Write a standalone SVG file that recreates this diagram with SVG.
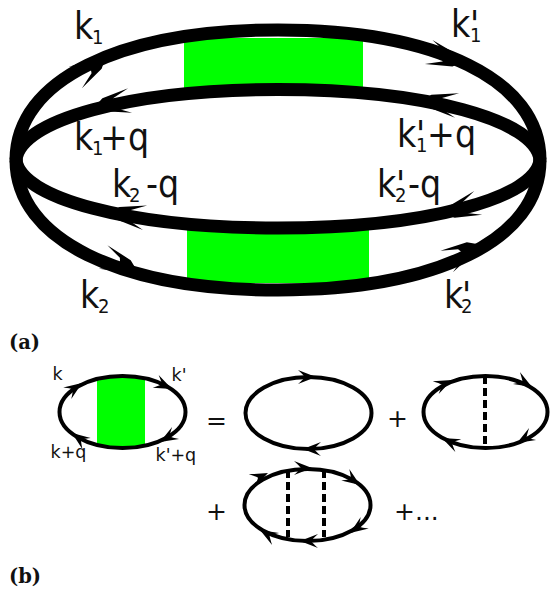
<svg xmlns="http://www.w3.org/2000/svg" xmlns:xlink="http://www.w3.org/1999/xlink" width="550" height="591" viewBox="0 0 550 591">
<style>
text{font-family:"DejaVu Sans",sans-serif;fill:#111}
.b{font-family:"DejaVu Sans Condensed","DejaVu Sans",sans-serif;font-size:37px}
.sub{font-size:20px}
.s{font-size:17.5px}
.m{font-size:25px}
.cap{font-family:"DejaVu Serif",serif;font-weight:bold;font-size:19.5px}
.g{fill:#00ff00}
.big{fill:none;stroke:#000;stroke-width:13}
.sm{fill:none;stroke:#000;stroke-width:4}
.d{fill:none;stroke:#000;stroke-width:4;stroke-dasharray:8 4}
</style>
<defs>
<path id="ah" d="M0 0L-8 -6.500L-35 -12.500L-19 -5L-17 0L-19 5L-35 12.500L-8 6.500Z" fill="#000"/>
<path id="sh" d="M0 0L-18 -7Q-13 -2.500 -11 0Q-13 2.500 -18 7Z" fill="#000"/>
</defs>
<g id="box-top"><rect class="g" x="184" y="38" width="179" height="52"/></g>
<g id="box-bottom"><rect class="g" x="187" y="228" width="182" height="55"/></g>
<g id="box-small"><rect class="g" x="97" y="378" width="48" height="68"/></g>
<g id="connectors">
<path class="big" d="M16 160C16 80 120 30 278 30C436 30 540 80 540 160"/>
<path class="big" d="M16 160C20 120 130 89.500 278 89.500C426 89.500 536 120 540 160"/>
<path class="big" d="M16 160C20 198 130 228 278 228C426 228 536 198 540 160"/>
<path class="big" d="M16 160C16 240 120 290 278 290C436 290 540 240 540 160"/>
<use xlink:href="#ah" transform="translate(105,59) rotate(-32)"/>
<use xlink:href="#ah" transform="translate(95.500,106) rotate(171)"/>
<use xlink:href="#ah" transform="translate(462,62.600) rotate(17.600)"/>
<use xlink:href="#ah" transform="translate(422.500,100) rotate(189)"/>
<use xlink:href="#ah" transform="translate(110.500,212) rotate(189.500)"/>
<use xlink:href="#ah" transform="translate(136,269) rotate(20)"/>
<use xlink:href="#ah" transform="translate(445,214) rotate(161.600)"/>
<use xlink:href="#ah" transform="translate(477,244) rotate(-30)"/>
<ellipse class="sm" cx="122.500" cy="412" rx="63" ry="36"/>
<use xlink:href="#sh" transform="translate(82,383) rotate(-35)"/>
<use xlink:href="#sh" transform="translate(172,389) rotate(25)"/>
<use xlink:href="#sh" transform="translate(160,442) rotate(150)"/>
<use xlink:href="#sh" transform="translate(72,433) rotate(216)"/>
<ellipse class="sm" cx="308.500" cy="413" rx="63" ry="36"/>
<use xlink:href="#sh" transform="translate(316,377)"/>
<use xlink:href="#sh" transform="translate(303,449) rotate(180)"/>
<ellipse class="sm" cx="485.500" cy="412" rx="62" ry="36"/>
<path class="d" d="M485 376V448"/>
<use xlink:href="#sh" transform="translate(452,380) rotate(-25)"/>
<use xlink:href="#sh" transform="translate(532,387) rotate(30)"/>
<use xlink:href="#sh" transform="translate(517,443) rotate(150)"/>
<use xlink:href="#sh" transform="translate(442,438) rotate(205)"/>
<ellipse class="sm" cx="307.500" cy="505" rx="63" ry="36"/>
<path class="d" d="M288 470V537M324 470V537"/>
<use xlink:href="#sh" transform="translate(268,473) rotate(-25)"/>
<use xlink:href="#sh" transform="translate(312,468)"/>
<use xlink:href="#sh" transform="translate(360,485) rotate(35)"/>
<use xlink:href="#sh" transform="translate(350,533) rotate(145)"/>
<use xlink:href="#sh" transform="translate(300,541) rotate(180)"/>
<use xlink:href="#sh" transform="translate(260,530) rotate(210)"/>
</g>
<g id="labels-a">
<text class="b" x="74" y="39">k<tspan class="sub" x="92" y="43.500">1</tspan></text>
<text class="b" x="451" y="37">k<tspan class="sub" x="470" y="41.500">1</tspan><tspan x="470" y="37">'</tspan></text>
<text class="b" x="74" y="150">k<tspan class="sub" x="92" y="155">1</tspan><tspan x="100" y="150">+q</tspan></text>
<text class="b" x="397" y="147">k<tspan class="sub" x="416" y="152">1</tspan><tspan x="416" y="147">'</tspan><tspan x="427" y="147">+q</tspan></text>
<text class="b" x="112" y="197">k<tspan class="sub" x="129" y="202">2</tspan><tspan x="146" y="197">-q</tspan></text>
<text class="b" x="377" y="197">k<tspan class="sub" x="395" y="202">2</tspan><tspan x="396" y="197">'</tspan><tspan x="408" y="197">-q</tspan></text>
<text class="b" x="80" y="308">k<tspan class="sub" x="98" y="313">2</tspan></text>
<text class="b" x="444" y="308">k<tspan class="sub" x="461" y="313">2</tspan><tspan x="462" y="308">'</tspan></text>
<text class="cap" x="9" y="349">(a)</text>
</g>
<g id="labels-b">
<text class="s" x="52.500" y="380">k</text>
<text class="s" x="171.500" y="381">k'</text>
<text class="s" x="50.500" y="458">k+q</text>
<text class="s" x="155.500" y="461">k'+q</text>
<text class="m" x="206" y="429">=</text>
<text class="m" x="387" y="427">+</text>
<text class="m" x="206" y="520">+</text>
<text class="m" x="394" y="520">+...</text>
<text class="cap" x="9" y="583">(b)</text>
</g>
</svg>
